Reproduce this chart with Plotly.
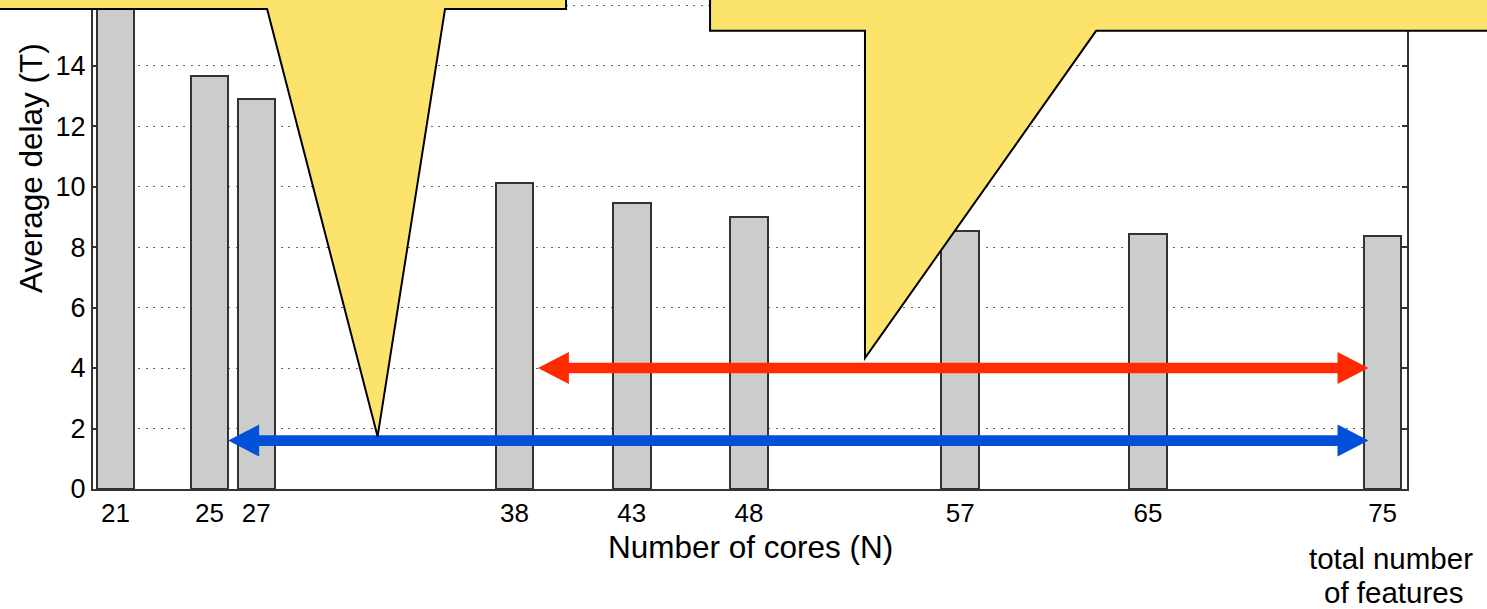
import plotly.graph_objects as go

# ---------------- data ----------------
cores = [21, 25, 27, 38, 43, 48, 57, 65, 75]
avg_delay = [17.0, 13.65, 12.88, 10.11, 9.47, 8.98, 8.53, 8.44, 8.36]
y_ticks = [0, 2, 4, 6, 8, 10, 12, 14, 16]
x_tick_labels = [str(c) for c in cores]

# double-headed arrows: [x_start, x_end, y]
red_arrow = [39.0, 74.4, 4.0]
blue_arrow = [25.8, 74.4, 1.6]

# callout bubbles (data units)
left_callout = dict(rect_right=40.2, base_y=15.87, ptr_left=27.46, ptr_right=35.04, tip=(32.17, 1.74))
right_callout = dict(rect_left=46.34, base_y=15.15, ptr_left=52.94, ptr_right=62.79, tip=(52.94, 4.33))

# ---------------- layout constants ----------------
W, H = 1487, 609
ML, MR, MT, MB = 93, 80, 0, 120
X_RANGE = [20.04, 76.04]
Y_RANGE = [0, 16.17]
PW, PH = W - ML - MR, H - MT - MB
PX_X = PW / (X_RANGE[1] - X_RANGE[0])
PX_Y = PH / (Y_RANGE[1] - Y_RANGE[0])
FONT = "Arial, Liberation Sans, sans-serif"
YELLOW = "#FCE36B"


def xp(x):
    return (x - X_RANGE[0]) / (X_RANGE[1] - X_RANGE[0])


def yp(y):
    return (y - Y_RANGE[0]) / (Y_RANGE[1] - Y_RANGE[0])


def arrow_path(x0, x1, y, head_len_px=31, head_half_px=16, shaft_half_px=5.3):
    L = head_len_px / PX_X
    Hh = head_half_px / PX_Y
    t = shaft_half_px / PX_Y
    pts = [(x0, y), (x0 + L, y + Hh), (x0 + L, y + t), (x1 - L, y + t), (x1 - L, y + Hh),
           (x1, y), (x1 - L, y - Hh), (x1 - L, y - t), (x0 + L, y - t), (x0 + L, y - Hh)]
    return "M " + " L ".join(f"{a:.4f},{b:.4f}" for a, b in pts) + " Z"


def poly(pts):
    return "M " + " L ".join(f"{a:.4f},{b:.4f}" for a, b in pts) + " Z"


fig = go.Figure()
fig.add_trace(go.Bar(
    x=cores, y=avg_delay, width=1.6,
    marker=dict(color="#CCCCCC", line=dict(color="#333333", width=2)),
    showlegend=False, hoverinfo="x+y",
))

shapes = []
# arrows
shapes.append(dict(type="path", xref="x", yref="y", path=arrow_path(*red_arrow),
                   fillcolor="#FF2A00", line=dict(width=0), layer="above"))
shapes.append(dict(type="path", xref="x", yref="y", path=arrow_path(*blue_arrow),
                   fillcolor="#0050D8", line=dict(width=0), layer="above"))

# callouts (paper coordinates so they may leave the plot area)
lc = left_callout
lpts = [(-0.2, 1.2), (xp(lc["rect_right"]), 1.2), (xp(lc["rect_right"]), yp(lc["base_y"])),
        (xp(lc["ptr_right"]), yp(lc["base_y"])), (xp(lc["tip"][0]), yp(lc["tip"][1])),
        (xp(lc["ptr_left"]), yp(lc["base_y"])), (-0.2, yp(lc["base_y"]))]
shapes.append(dict(type="path", xref="paper", yref="paper", path=poly(lpts),
                   fillcolor=YELLOW, line=dict(color="black", width=2), layer="above"))
rc = right_callout
rpts = [(xp(rc["rect_left"]), 1.2), (1.3, 1.2), (1.3, yp(rc["base_y"])),
        (xp(rc["ptr_right"]), yp(rc["base_y"])), (xp(rc["tip"][0]), yp(rc["tip"][1])),
        (xp(rc["ptr_left"]), yp(rc["base_y"])), (xp(rc["rect_left"]), yp(rc["base_y"]))]
shapes.append(dict(type="path", xref="paper", yref="paper", path=poly(rpts),
                   fillcolor=YELLOW, line=dict(color="black", width=2), layer="above"))

TITLE_SIZE = 31.5
NOTE_SIZE = 29.5
annotations = [
    dict(text="Average delay (T)", xref="paper", yref="paper",
         x=(31 - ML) / PW, y=(PH - 168) / PH, textangle=-90, showarrow=False,
         xanchor="center", yanchor="middle", font=dict(size=TITLE_SIZE, color="black", family=FONT)),
    dict(text="Number of cores (N)", xref="paper", yref="paper",
         x=0.5, y=(PH - 547) / PH, showarrow=False,
         xanchor="center", yanchor="middle", font=dict(size=TITLE_SIZE, color="black", family=FONT)),
    dict(text="total number", xref="paper", yref="paper",
         x=(1391 - ML) / PW, y=(PH - 558) / PH, showarrow=False,
         xanchor="center", yanchor="middle", font=dict(size=NOTE_SIZE, color="black", family=FONT)),
    dict(text="of features", xref="paper", yref="paper",
         x=(1393 - ML) / PW, y=(PH - 592) / PH, showarrow=False,
         xanchor="center", yanchor="middle", font=dict(size=NOTE_SIZE, color="black", family=FONT)),
]

fig.update_layout(
    width=W, height=H,
    margin=dict(l=ML, r=MR, t=MT, b=MB, pad=0),
    paper_bgcolor="white", plot_bgcolor="white",
    font=dict(family=FONT, color="black"),
    shapes=shapes, annotations=annotations,
    bargap=0,
    xaxis=dict(range=X_RANGE, tickvals=cores, ticktext=x_tick_labels, ticks="",
               showgrid=False, zeroline=False, showline=True, linecolor="#333333", linewidth=2,
               mirror=False, tickfont=dict(size=26, color="black", family=FONT)),
    yaxis=dict(range=Y_RANGE, tickvals=y_ticks, ticks="inside", ticklen=5, tickwidth=2,
               tickcolor="#333333", showgrid=True, gridcolor="#666666", gridwidth=1.2,
               griddash="2px,5.5px", zeroline=False, showline=True, linecolor="#333333",
               linewidth=2, mirror="ticks", tickfont=dict(size=27, color="black", family=FONT)),
)

fig.write_html("out.html", config={"displayModeBar": False},
               post_script="document.body.style.margin='0';document.body.style.overflow='hidden';")
